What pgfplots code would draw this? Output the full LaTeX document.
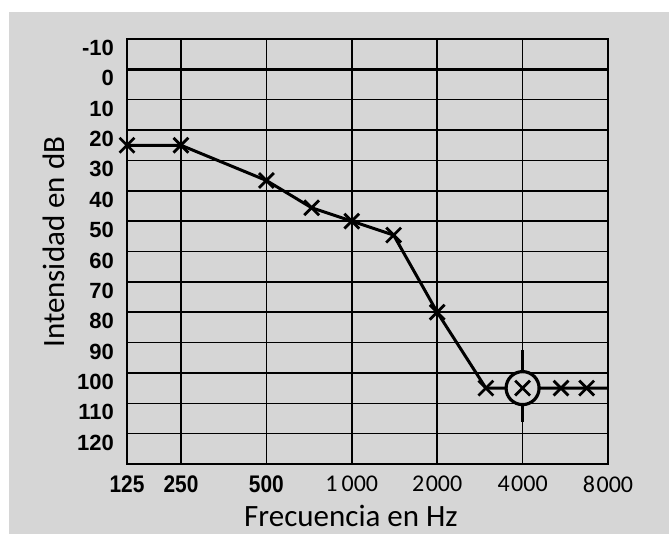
\documentclass[border=0pt]{standalone}
\usepackage{fontspec}
\setmainfont{Carlito}
\newfontfamily\tickbold{Liberation Sans Bold}
\newfontfamily\tickcond[FakeStretch=0.87]{Liberation Sans Bold}
\usepackage{pgfplots}
\pgfplotsset{compat=1.18}
\definecolor{bg}{gray}{0.84}
\newcommand\XA[1]{\fontsize{24bp}{26bp}\selectfont\tickcond #1}
\newcommand\XB[1]{\fontsize{24bp}{26bp}\selectfont #1}
\newcommand\YL[1]{\fontsize{22bp}{24bp}\selectfont\tickbold #1}
\begin{document}
\begin{tikzpicture}
\fill[white] (0,0) rectangle (669bp,534bp);
\fill[bg] (9bp,0) rectangle (669bp,522bp);
\begin{axis}[
 at={(127bp,70bp)}, anchor=south west,
 scale only axis, width=481bp, height=425bp,
 xmin=-0.632, xmax=5, ymin=-10, ymax=130, y dir=reverse,
 xtick={-0.632,0,1,2,3,4,5},
 xticklabels={\XA{125},\XA{250},\XA{500},\XB{1\kern4bp 000},\XB{2\kern1.5bp 000},\XB{4\kern1.5bp 000},\XB{8\kern1.5bp 000}},
 ytick={-10,0,10,20,30,40,50,60,70,80,90,100,110,120},
 yticklabels={\YL{-10},\YL{0},\YL{10},\YL{20},\YL{30},\YL{40},\YL{50},\YL{60},\YL{70},\YL{80},\YL{90},\YL{100},\YL{110},\YL{120}},
 grid=major, grid style={black,line width=1.5bp},
 axis line style={black,line width=1.6bp},
 major tick length=0pt,
 clip=false,
 xticklabel style={anchor=north, inner sep=0pt, yshift=-12bp},
 yticklabel style={anchor=east, inner sep=0pt, xshift=-13bp, yshift=-9bp},
 xlabel={Frecuencia en Hz}, ylabel={Intensidad en dB},
 label style={font=\fontsize{31bp}{34bp}\selectfont, inner sep=0pt},
 xlabel style={at={(axis description cs:0.4657,-0.1459)}, anchor=base},
 ylabel style={at={(axis description cs:-0.1289,0.522)}, anchor=base},
]
\addplot[black, line width=3bp] coordinates {(-0.632,0) (5,0)};
\addplot[black, line width=2.6bp] coordinates {(4,92.4) (4,116)};
\addplot[black, line width=3bp] coordinates {
 (-0.632,25) (0,25) (1,36.6) (1.53,45.6) (2,50) (2.49,54.6) (3,80) (3.57,105) (4,105) (4.45,105) (4.75,105) (5,105)};
\addplot[only marks, mark=x, mark size=10.5bp, mark options={black, line width=2.8bp}] coordinates {
 (-0.632,25) (0,25) (1,36.6) (1.53,45.6) (2,50) (2.49,54.6) (3,80) (3.57,105) (4.45,105) (4.75,105)};
\addplot[only marks, mark=*, mark size=16.5bp, mark options={fill=bg, draw=black, line width=3.2bp}] coordinates {(4,105)};
\addplot[only marks, mark=x, mark size=10.5bp, mark options={black, line width=2.8bp}] coordinates {(4,105)};
\end{axis}
\pgfresetboundingbox
\useasboundingbox (0,0) rectangle (669bp,534bp);
\end{tikzpicture}
\end{document}
